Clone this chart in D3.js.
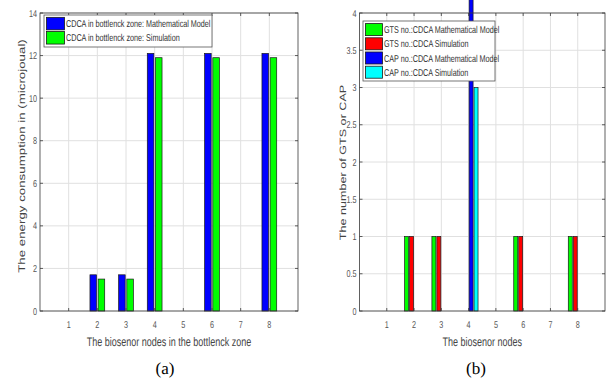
<!DOCTYPE html>
<html><head><meta charset="utf-8">
<script src="https://cdn.jsdelivr.net/npm/d3@7"></script>
<style>body{margin:0;background:#fff}svg{display:block}text{text-rendering:geometricPrecision}</style>
</head><body>
<svg id="c" width="606" height="379"></svg>
<script>
// ---------- data ----------
const nodes = [1,2,3,4,5,6,7,8];
// chart (a)
const energyModel = [0,1.7,1.7,12.1,0,12.1,0,12.1];
const energySim   = [0,1.5,1.5,11.9,0,11.9,0,11.9];
const energyTicks = [0,2,4,6,8,10,12,14];
const seriesA = ["CDCA in bottlenck zone: Mathematical Model","CDCA in bottlenck zone: Simulation"];
// chart (b)
const gtsModel = [0,1,1,0,0,1,0,1];
const gtsSim   = [0,1,1,0,0,1,0,1];
const capModel = [0,0,0,5,0,0,0,0];
const capSim   = [0,0,0,3,0,0,0,0];
const countTicks = [0,0.5,1,1.5,2,2.5,3,3.5,4];
const seriesB = ["GTS no.:CDCA Mathematical Model","GTS no.:CDCA Simulation","CAP no.:CDCA Mathematical Model","CAP no.:CDCA Simulation"];

const colorsA = ["#0000ff","#00ff00"];
const colorsB = ["#00ff00","#ff0000","#0000ff","#00ffff"];

const svg = d3.select("#c");
const SQ = 0.72;
const tickFont = "'Liberation Sans', Arial, sans-serif";

function sqText(g, x, y, txt, size, anchor, fill){
  return g.append("text")
    .attr("transform", `translate(${x},${y}) scale(${SQ/10},0.1)`)
    .attr("text-anchor", anchor)
    .attr("font-family", tickFont)
    .attr("font-size", size*10)
    .attr("fill", fill)
    .text(txt);
}

function chart(opts){
  const {x0,x1,y0,y1,yMax,yTicks,series,colors,names,xlab,ylab,ylabX,ylabY,ylabSize,cap,capX,leg,yFmt} = opts;
  const g = svg.append("g");
  const x = d3.scaleLinear().domain([0,9]).range([x0,x1]);
  const y = d3.scaleLinear().domain([0,yMax]).range([y1,y0]);
  const n = series.length;
  const groupW = Math.min(0.8, n/(n+1.5));
  const slot = groupW/n;
  const bw = slot*0.8;

  // grid
  g.append("g").selectAll("line").data(nodes).join("line")
    .attr("x1",d=>x(d)).attr("x2",d=>x(d)).attr("y1",y0).attr("y2",y1)
    .attr("stroke","#e0e0e0").attr("stroke-width",1);
  g.append("g").selectAll("line").data(yTicks).join("line")
    .attr("x1",x0).attr("x2",x1).attr("y1",d=>y(d)).attr("y2",d=>y(d))
    .attr("stroke","#e0e0e0").attr("stroke-width",1);

  // bars
  series.forEach((vals,si)=>{
    const off = (si-(n-1)/2)*slot;
    g.append("g").selectAll("rect").data(vals).join("rect")
      .attr("x",(d,i)=>x(nodes[i]+off-bw/2))
      .attr("width",x(bw)-x(0))
      .attr("y",d=>y(d))
      .attr("height",d=>y(0)-y(d))
      .attr("fill",colors[si])
      .attr("stroke","#1a1a1a").attr("stroke-width",0.7);
  });

  // box
  g.append("rect").attr("x",x0).attr("y",y0).attr("width",x1-x0).attr("height",y1-y0)
    .attr("fill","none").attr("stroke","#3a3a3a").attr("stroke-width",0.8);
  // ticks
  const tl = 3;
  nodes.forEach(d=>{
    g.append("line").attr("x1",x(d)).attr("x2",x(d)).attr("y1",y1).attr("y2",y1-tl).attr("stroke","#3a3a3a").attr("stroke-width",0.8);
    g.append("line").attr("x1",x(d)).attr("x2",x(d)).attr("y1",y0).attr("y2",y0+tl).attr("stroke","#3a3a3a").attr("stroke-width",0.8);
    sqText(g, x(d), 327.5, String(d), 10, "middle", "#555");
  });
  yTicks.forEach(d=>{
    g.append("line").attr("x1",x0).attr("x2",x0+tl).attr("y1",y(d)).attr("y2",y(d)).attr("stroke","#3a3a3a").attr("stroke-width",0.8);
    g.append("line").attr("x1",x1).attr("x2",x1-tl).attr("y1",y(d)).attr("y2",y(d)).attr("stroke","#3a3a3a").attr("stroke-width",0.8);
    sqText(g, x0-3, y(d)+3.5, yFmt(d), 10, "end", "#555");
  });

  // labels
  sqText(g, (x0+x1)/2, 345.5, xlab, 12.5, "middle", "#444");
  g.append("text")
    .attr("transform",`translate(${ylabX},${ylabY}) rotate(-90) scale(0.1,${SQ/10})`)
    .attr("text-anchor","middle")
    .attr("font-family",tickFont)
    .attr("font-size",ylabSize*10)
    .attr("fill","#444")
    .text(ylab);
  g.append("text").attr("x",capX).attr("y",374)
    .attr("text-anchor","middle")
    .attr("font-family","'Liberation Serif', 'Times New Roman', serif")
    .attr("font-size",17).attr("fill","#000").text(cap);

  // legend
  const lg = g.append("g");
  lg.append("rect").attr("x",leg.x).attr("y",leg.y).attr("width",leg.w).attr("height",leg.h)
    .attr("fill","#fff").attr("stroke","#555").attr("stroke-width",0.8);
  names.forEach((nm,i)=>{
    const cy = leg.y + leg.pad + leg.step*(i+0.5);
    lg.append("rect").attr("x",leg.x+2.5).attr("y",cy-leg.sh/2).attr("width",leg.sw).attr("height",leg.sh)
      .attr("fill",colors[i]).attr("stroke","#1a1a1a").attr("stroke-width",0.8);
    sqText(lg, leg.x+leg.sw+4, cy+3.5, nm, 10, "start", "#333");
  });
}

chart({x0:40,x1:298,y0:13,y1:311,yMax:14,yTicks:energyTicks,
  series:[energyModel,energySim],colors:colorsA,names:seriesA,
  xlab:"The biosenor nodes in the bottlenck zone",
  ylab:"The energy consumption in (microjoual)",ylabX:25,ylabY:156,ylabSize:13.3,
  cap:"(a)",capX:165,yFmt:d=>String(d),
  leg:{x:44,y:15,w:168,h:32,pad:1.5,step:14.2,sw:18,sh:12.5}});

chart({x0:359.5,x1:605,y0:13,y1:311,yMax:4,yTicks:countTicks,
  series:[gtsModel,gtsSim,capModel,capSim],colors:colorsB,names:seriesB,
  xlab:"The biosenor nodes",
  ylab:"The number of GTS or CAP",ylabX:345.5,ylabY:162.5,ylabSize:12.6,
  cap:"(b)",capX:476,yFmt:d=>String(d),
  leg:{x:363,y:21,w:132,h:60,pad:1.5,step:14.2,sw:17,sh:12}});
</script>
</body></html>
